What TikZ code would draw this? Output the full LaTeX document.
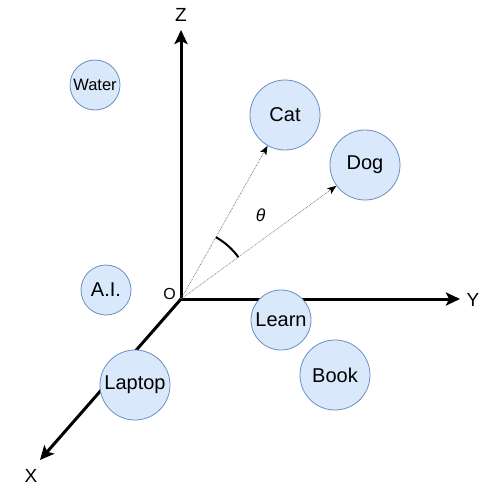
\documentclass[tikz,border=0pt]{standalone}
\usepackage{fontspec}
\setmainfont{Liberation Sans}
\usepackage{tikz}
\usetikzlibrary{arrows.meta,angles,quotes}
\definecolor{wordfill}{HTML}{DAE8FC}
\definecolor{wordline}{HTML}{6C8EBF}

\begin{document}
\begin{tikzpicture}[x=1pt,y=-1pt,>={[inset=3pt,length=14pt,width=13pt]Stealth},
    word/.style={circle,draw=wordline,fill=wordfill,line width=0.8pt,inner sep=0pt,
                 minimum size=70pt,font=\fontsize{20}{20}\selectfont},
    axislabel/.style={font=\fontsize{19}{20}\selectfont}]
          \useasboundingbox (0,0) rectangle (503,490);
          \coordinate (O) at (181,299);
          \coordinate (zend) at (181,30);
          \coordinate (yend) at (460,299);
          \coordinate (xend) at (40,460);
          \draw [line width=3pt,->] (O) -- (zend);
          \draw [line width=3pt,->] (O) -- (yend);
          \draw [line width=3pt,->] (O) -- (xend);
          \node [axislabel] (zlab) at (181,15) {Z};
          \node [axislabel] (ylab) at (473,300) {Y};
          \node [axislabel] (xlab) at (31,476) {X};
          \node [font=\fontsize{16}{16}\selectfont] (olab) at (169.5,294) {O};
          \node [word,minimum size=50pt,font=\fontsize{16.5}{17}\selectfont] (water) at (95,85) {Water};
          \node [word,minimum size=50pt] (ai) at (106,290) {A.I.};
          \node [word] (cat) at (285,115) {Cat};
          \node [word] (dog) at (365,165) {Dog};
          \node [word,minimum size=60pt] (learn) at (281,320) {Learn};
          \node [word] (laptop) at (135,385) {Laptop};
          \node [word] (book) at (335,375) {Book};
          \draw [densely dotted,black!60,line width=0.7pt,
                 -{Stealth[length=9pt,width=7pt,inset=2pt,black]}] (O) -- (cat);
          \draw [densely dotted,black!60,line width=0.7pt,
                 -{Stealth[length=9pt,width=7pt,inset=2pt,black]}] (O) -- (dog);
          \pic [draw,line width=2pt,angle radius=71pt] {angle = dog--O--cat};
          \node [font=\fontsize{17.5}{18}\selectfont\itshape] (theta) at (260.5,215) {θ};
        \end{tikzpicture}
\end{document}
